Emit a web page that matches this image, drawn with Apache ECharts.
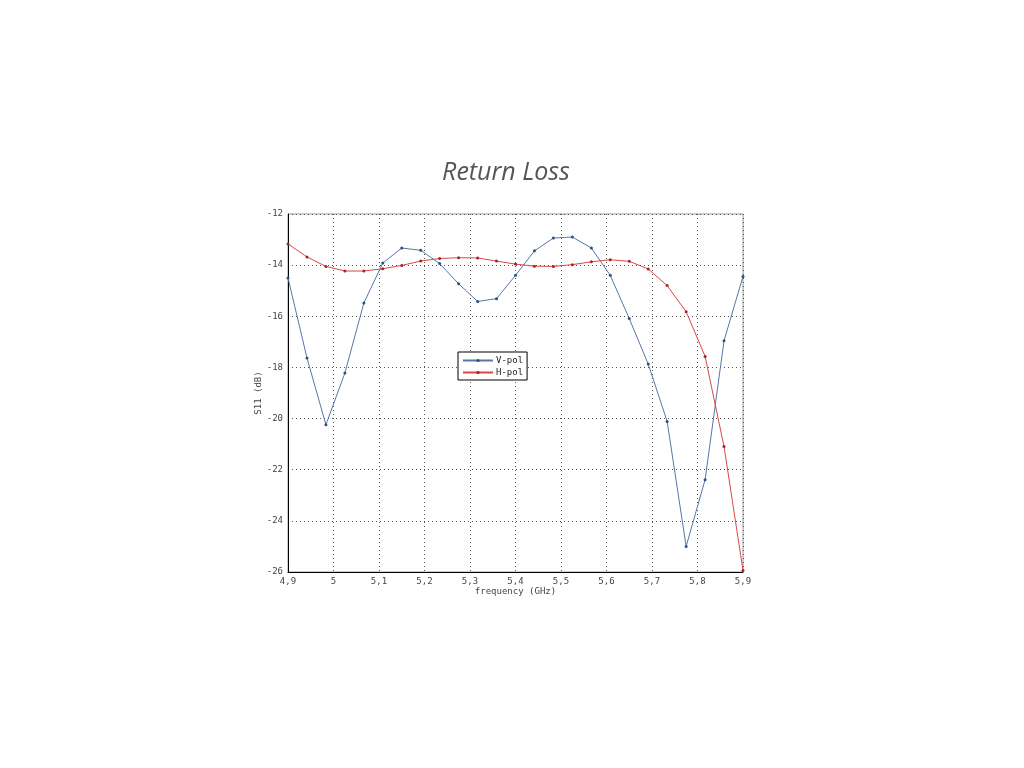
<!DOCTYPE html>
<html><head><meta charset="utf-8">
<script src="https://cdn.jsdelivr.net/npm/echarts@6/dist/echarts.min.js"></script>
<style>html,body{margin:0;padding:0;background:#fff}#c{width:1024px;height:768px}</style>
</head><body><div id="c"></div>
<script>
const freq = [4.9,4.9417,4.9833,5.025,5.0667,5.1083,5.15,5.1917,5.2333,5.275,5.3167,5.3583,5.4,5.4417,5.4833,5.525,5.5667,5.6083,5.65,5.6917,5.7333,5.775,5.8167,5.8583,5.9];
const vpol = [-14.50,-17.63,-20.24,-18.22,-15.48,-13.92,-13.33,-13.42,-13.94,-14.73,-15.42,-15.31,-14.40,-13.44,-12.94,-12.90,-13.33,-14.40,-16.09,-17.87,-20.11,-25.00,-22.39,-16.96,-14.44];
const hpol = [-13.17,-13.68,-14.05,-14.23,-14.23,-14.14,-14.01,-13.84,-13.74,-13.71,-13.72,-13.84,-13.96,-14.04,-14.05,-13.98,-13.87,-13.79,-13.85,-14.15,-14.80,-15.82,-17.57,-21.09,-25.94];
const seriesNames = ['V-pol','H-pol'];
const chart = echarts.init(document.getElementById('c'));
const lbl = {color:'#444', fontFamily:'DejaVu Sans Mono', fontSize:9};
chart.setOption({
  animation:false,
  title:{text:'Return Loss', left:501, top:155, textAlign:'center',
    textStyle:{fontFamily:'Open Sans', fontStyle:'italic', fontWeight:'normal', fontSize:25, color:'#555'}},
  grid:{left:288, right:281, top:214, bottom:196, show:true, borderColor:'#999', borderWidth:1, containLabel:false},
  legend:{orient:'vertical', left:458, top:352, data:seriesNames, itemWidth:30, itemHeight:4, itemGap:3,
    backgroundColor:'#fff', borderColor:'#000', borderWidth:1, padding:[4,4,3,4],
    textStyle:{color:'#222', fontFamily:'DejaVu Sans Mono', fontSize:9, padding:[0,0,0,-2]}},
  xAxis:{type:'value', min:4.9, max:5.9, interval:0.1,
    name:'frequency (GHz)', nameLocation:'middle', nameGap:15, nameTextStyle:lbl,
    axisLine:{show:true, lineStyle:{color:'#000'}}, axisTick:{show:false},
    axisLabel:Object.assign({}, lbl, {margin:5, formatter:v=>{const s=(Math.round(v*10)/10).toString(); return s.replace('.',',');}}),
    splitLine:{show:true, lineStyle:{color:'#555', type:[1,3], width:1}}},
  yAxis:{type:'value', min:-26, max:-12, interval:2,
    name:'S11 (dB)', nameLocation:'middle', nameGap:23, nameTextStyle:lbl,
    axisLine:{show:true, lineStyle:{color:'#000'}}, axisTick:{show:false},
    axisLabel:Object.assign({}, lbl, {margin:5}),
    splitLine:{show:true, lineStyle:{color:'#555', type:[1,3], width:1}}},
  series:[
    {name:seriesNames[0], type:'line', data:freq.map((f,i)=>[f,vpol[i]]), symbol:'circle', symbolSize:3,
      lineStyle:{color:'#5577a8', width:1}, itemStyle:{color:'#2f4f80'}},
    {name:seriesNames[1], type:'line', data:freq.map((f,i)=>[f,hpol[i]]), symbol:'circle', symbolSize:3,
      lineStyle:{color:'#d84848', width:1}, itemStyle:{color:'#b02020'}}
  ]
});
</script></body></html>
